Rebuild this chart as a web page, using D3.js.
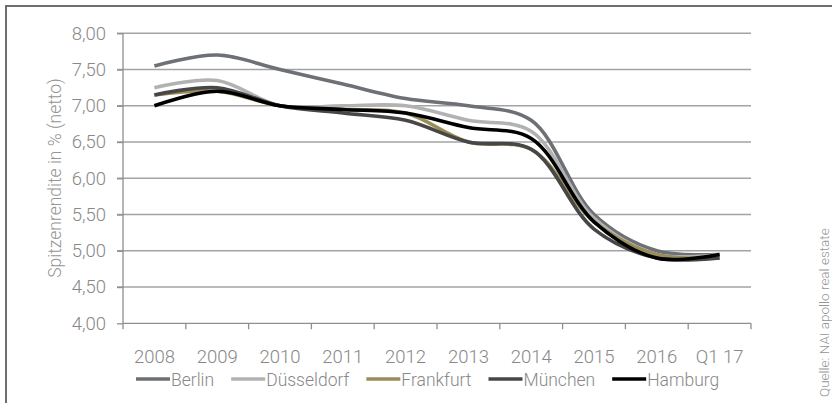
<!DOCTYPE html>
<html>
<head>
<meta charset="utf-8">
<script src="https://cdn.jsdelivr.net/npm/d3@7"></script>
<style>
  html, body { margin: 0; padding: 0; background: #fff; }
  svg { display: block; }
  text { font-family: Roboto, "Liberation Sans", Arial, sans-serif; font-weight: 300; }
</style>
</head>
<body>
<svg id="chart" width="832" height="403"></svg>
<script>
const categories = ["2008", "2009", "2010", "2011", "2012", "2013", "2014", "2015", "2016", "Q1 17"];
const seriesNames = ["Berlin", "Düsseldorf", "Frankfurt", "München", "Hamburg"];
const berlin     = [7.55, 7.70, 7.50, 7.30, 7.10, 7.00, 6.80, 5.50, 5.00, 4.95];
const duesseldorf= [7.25, 7.35, 7.00, 7.00, 7.00, 6.80, 6.65, 5.45, 4.95, 4.95];
const frankfurt  = [7.15, 7.20, 7.00, 6.95, 6.90, 6.50, 6.40, 5.40, 4.95, 4.90];
const muenchen   = [7.15, 7.25, 7.00, 6.90, 6.80, 6.50, 6.40, 5.30, 4.90, 4.90];
const hamburg    = [7.00, 7.20, 7.00, 6.95, 6.90, 6.70, 6.55, 5.40, 4.90, 4.95];
const yTicks = [4.0, 4.5, 5.0, 5.5, 6.0, 6.5, 7.0, 7.5, 8.0];
const yTickLabels = ["4,00", "4,50", "5,00", "5,50", "6,00", "6,50", "7,00", "7,50", "8,00"];
const yTitle = "Spitzenrendite in % (netto)";
const sourceText = "Quelle: NAI apollo real estate";

const seriesValues = [berlin, duesseldorf, frankfurt, muenchen, hamburg];
const colors = ["#6d7074", "#b2b2b2", "#9a8d58", "#474747", "#000000"];

const svg = d3.select("#chart");
const plot = { left: 123, right: 751, top: 33.3, bottom: 323.3 };
const FONT = "Roboto, 'Liberation Sans', Arial, sans-serif";

// frame
svg.append("rect")
  .attr("x", 6).attr("y", 6)
  .attr("width", 900).attr("height", 500)
  .attr("fill", "none").attr("stroke", "#6e6e6e").attr("stroke-width", 2);

const x = d3.scaleBand().domain(categories).range([plot.left, plot.right]).padding(0);
const y = d3.scaleLinear().domain([4, 8]).range([plot.bottom, plot.top]);

// gridlines
svg.append("g").selectAll("line").data(yTicks.filter(t => t > 4)).join("line")
  .attr("x1", plot.left - 6).attr("x2", plot.right)
  .attr("y1", d => y(d)).attr("y2", d => y(d))
  .attr("stroke", "#a3a3a3").attr("stroke-width", 1.5);

// y axis
const yAxis = d3.axisLeft(y).tickValues(yTicks)
  .tickFormat((d, i) => yTickLabels[i]).tickSize(6).tickPadding(11);
const gy = svg.append("g").attr("transform", `translate(${plot.left},0)`).call(yAxis);
gy.select(".domain").attr("stroke", "#8f8f8f").attr("stroke-width", 1.3).attr("d", `M0,${plot.top}V${plot.bottom}`);
gy.selectAll(".tick line").attr("stroke", "#8f8f8f").attr("stroke-width", 1.3);
gy.selectAll(".tick text").attr("fill", "#888888").style("font-size", "18.5px")
  .style("font-family", FONT).style("font-weight", 300);

// x axis
const xAxis = d3.axisBottom(x).tickSize(0).tickPadding(0);
const gx = svg.append("g").attr("transform", `translate(0,${plot.bottom})`).call(xAxis);
gx.select(".domain").attr("stroke", "#8f8f8f").attr("stroke-width", 1.3).attr("d", `M${plot.left},0H${plot.right}`);
gx.selectAll(".tick text").attr("fill", "#888888").style("font-size", "18.5px")
  .style("font-family", FONT).style("font-weight", 300)
  .attr("dy", null).attr("y", 40);
// boundary tick marks
const boundaries = categories.map(c => x(c)).concat([plot.right]);
gx.append("g").selectAll("line").data(boundaries).join("line")
  .attr("x1", d => d).attr("x2", d => d).attr("y1", 0).attr("y2", 6)
  .attr("stroke", "#8f8f8f").attr("stroke-width", 1.3);

// lines
const line = d3.line()
  .x((d, i) => x(categories[i]) + x.bandwidth() / 2)
  .y(d => y(d))
  .curve(d3.curveCatmullRom.alpha(0.5));
svg.append("g").selectAll("path").data(seriesValues).join("path")
  .attr("d", d => line(d))
  .attr("fill", "none")
  .attr("stroke", (d, i) => colors[i])
  .attr("stroke-width", 3.6)
  .attr("stroke-linecap", "butt")
  .attr("stroke-linejoin", "round");

// y title
svg.append("text")
  .attr("transform", `translate(61,178) rotate(-90)`)
  .attr("text-anchor", "middle")
  .attr("fill", "#959595").style("font-size", "17.5px")
  .text(yTitle);

// legend
const lg = svg.append("g");
let lx = 136;
const ly = 379;
seriesNames.forEach((name, i) => {
  lg.append("line").attr("x1", lx).attr("x2", lx + 34).attr("y1", ly).attr("y2", ly)
    .attr("stroke", colors[i]).attr("stroke-width", 3.6);
  const t = lg.append("text").attr("x", lx + 35).attr("y", ly + 6.5)
    .attr("fill", "#888888").style("font-size", "17.5px").text(name);
  lx = lx + 35 + t.node().getComputedTextLength() + 17;
});

// source
svg.append("text")
  .attr("transform", `translate(829,397) rotate(-90)`)
  .attr("fill", "#959595").style("font-size", "13.5px")
  .text(sourceText);
</script>
</body>
</html>
